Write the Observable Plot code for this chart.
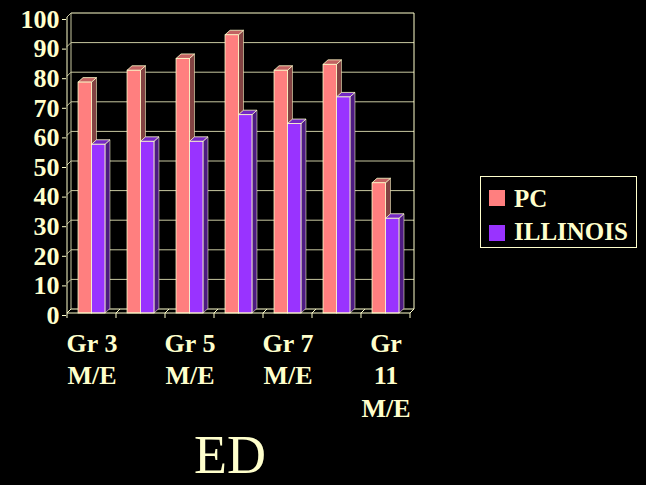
<!DOCTYPE html>
<html><head><meta charset="utf-8">
<script src="https://cdn.jsdelivr.net/npm/d3@7"></script>
<script src="https://cdn.jsdelivr.net/npm/@observablehq/plot@0.6"></script>
<style>
html,body{margin:0;padding:0;background:#000;overflow:hidden}
#wrap{position:relative;width:646px;height:485px;background:#000;font-family:'Liberation Serif','DejaVu Serif',serif;color:#FFFFCC}
#title{position:absolute;left:0;top:430px;width:460px;text-align:center;font-size:54px;line-height:50px;font-weight:normal}
#legend{position:absolute;left:480px;top:176px;width:155px;height:70px;border:1px solid #FFFFCC}
.sw{position:absolute;left:8px;width:16px;height:16px}
.lt{position:absolute;left:33px;font-size:25px;line-height:25px;font-weight:bold;white-space:nowrap}
</style></head><body>
<div id="wrap"><div id="chart"></div><div id="title">ED</div>
<div id="legend">
 <div class="sw" style="top:13px;background:#FF7F7F"></div><div class="lt" style="top:9px">PC</div>
 <div class="sw" style="top:48px;background:#9933FF"></div><div class="lt" style="top:42px">ILLINOIS</div>
</div></div>
<script>
const categories = ["Gr 3 M/E","Gr 4 M/E","Gr 5 M/E","Gr 6 M/E","Gr 7 M/E","Gr 8 M/E","Gr 11 M/E"];
const tickLabels = ["Gr 3\nM/E","","Gr 5\nM/E","","Gr 7\nM/E","","Gr\n11\nM/E"];
const series = ["PC","ILLINOIS"];
const pcValues = [78,82,86,94,82,84,44];
const illinoisValues = [57,58,58,67,64,73,32];
const yTicks = [0,10,20,30,40,50,60,70,80,90,100];

const faceColors = {
  PC: {front:"#FF7F7F", top:"#C26262", side:"#824242"},
  ILLINOIS: {front:"#9933FF", top:"#7428C4", side:"#4D1A82"}
};
const valuesBySeries = {PC: pcValues, ILLINOIS: illinoisValues};
const cream = "#FFFFCC", gridColor = "#C8C8A0";

function threeD(index, scales) {
  const x = scales.x, y = scales.y;
  const bw = typeof x.bandwidth === "function" ? x.bandwidth() : x.bandwidth;
  const xa = x(categories[0]), xb = x(categories[categories.length-1]) + bw;
  const y0 = y(0), yMax = y(100);
  const D = 4;
  const g = d3.create("svg:g");
  const line = (x1,y1,x2,y2,c) => g.append("line").attr("x1",x1).attr("y1",y1).attr("x2",x2).attr("y2",y2).attr("stroke",c).attr("stroke-width",1);
  for (const t of yTicks) {
    line(xa + D, y(t) - D, xb + D, y(t) - D, t === 0 || t === 100 ? cream : gridColor);
    line(xa, y(t), xa + D, y(t) - D, gridColor);
  }
  line(xa + D, y0 - D, xa + D, yMax - D, gridColor);
  line(xb + D, y0 - D, xb + D, yMax - D, cream);
  for (let i = 0; i <= categories.length; i++) {
    const xx = xa + i * bw;
    line(xx, y0, xx + D, y0 - D, cream);
    line(xx, y0, xx, y0 + 5, cream);
  }
  const inner = d3.scaleBand().domain(series).range([0, bw]).paddingInner(0).paddingOuter(0.82);
  const ib = inner.bandwidth();
  const d = 5, dd = 4.5;
  categories.forEach((c, i) => {
    for (const s of series) {
      const v = valuesBySeries[s][i];
      const bx1 = x(c) + inner(s), bx2 = bx1 + ib;
      const yv = y(v), yb = y0;
      const col = faceColors[s];
      g.append("path").attr("d", `M${bx2},${yb}L${bx2},${yv}L${bx2+d},${yv-dd}L${bx2+d},${yb-dd}Z`)
        .attr("fill", col.side).attr("stroke", cream).attr("stroke-opacity", 0.7).attr("stroke-width", 0.8);
      g.append("path").attr("d", `M${bx1},${yv}L${bx2},${yv}L${bx2+d},${yv-dd}L${bx1+d},${yv-dd}Z`)
        .attr("fill", col.top).attr("stroke", cream).attr("stroke-width", 0.8);
      g.append("rect").attr("x", bx1).attr("y", yv).attr("width", ib).attr("height", yb - yv)
        .attr("fill", col.front).attr("stroke", cream).attr("stroke-width", 0.8);
    }
  });
  line(xa, y0, xb, y0, cream);
  line(xb, y0, xb + D, y0 - D, cream);
  line(xa, y0, xa, yMax, cream);
  return g.node();
}

const plot = Plot.plot({
  width: 646, height: 430,
  marginLeft: 66, marginRight: 235, marginTop: 17, marginBottom: 117,
  style: {background: "#000", color: cream, fontFamily: "'Liberation Serif','DejaVu Serif',serif"},
  x: {type: "band", domain: categories, padding: 0, label: null},
  y: {domain: [0, 100], label: null},
  marks: [
    threeD,
    Plot.axisY({ticks: yTicks, tickSize: 4, tickPadding: 3, fontSize: 26, fontWeight: "bold", dy: 2}),
    Plot.axisX({tickSize: 0, tickPadding: 15, tickFormat: d => tickLabels[categories.indexOf(d)], fontSize: 26, fontWeight: "bold", lineHeight: 1.25})
  ]
});
document.getElementById("chart").appendChild(plot);
</script>
</body></html>
